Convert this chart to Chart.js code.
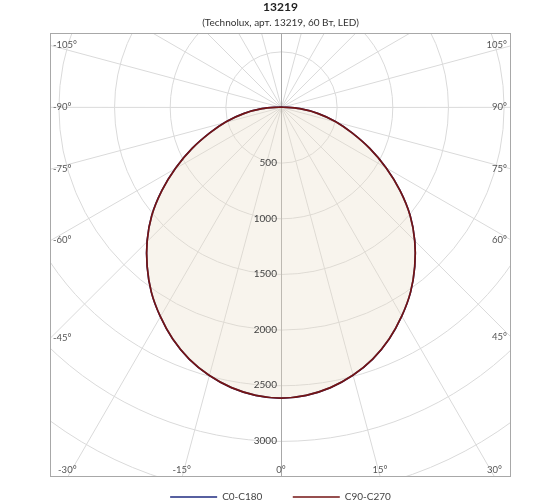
<!DOCTYPE html>
<html>
<head>
<meta charset="utf-8">
<script src="https://cdn.jsdelivr.net/npm/chart.js@4.4.1/dist/chart.umd.min.js"></script>
<style>
  html, body { margin: 0; padding: 0; background: #fff; }
  #cadre { width: 560px; height: 504px; }
</style>
</head>
<body>
<div id="cadre"><canvas id="graphique"></canvas></div>
<script>

// angles gamma en degres (0 = vers le bas)
const anglesGamma = [-90, -85, -80, -75, -70, -65, -60, -55, -50, -45, -40, -35, -30, -25, -20, -15, -10, -5,
  0, 5, 10, 15, 20, 25, 30, 35, 40, 45, 50, 55, 60, 65, 70, 75, 80, 85, 90];

const intensiteC0C180 = [0, 170, 340, 510, 680, 880, 1090, 1305, 1515, 1700, 1870, 2030, 2170, 2300, 2410, 2495, 2560, 2600,
  2615, 2600, 2560, 2495, 2410, 2300, 2170, 2030, 1870, 1700, 1515, 1305, 1090, 880, 680, 510, 340, 170, 0];
const intensiteC90C270 = [0, 170, 340, 510, 680, 880, 1090, 1305, 1515, 1700, 1870, 2030, 2170, 2300, 2410, 2495, 2560, 2600,
  2615, 2600, 2560, 2495, 2410, 2300, 2170, 2030, 1870, 1700, 1515, 1305, 1090, 880, 680, 510, 340, 170, 0];

const anneaux = [500, 1000, 1500, 2000, 2500, 3000, 3500, 4000];
const etiquettesAnneaux = [500, 1000, 1500, 2000, 2500, 3000];
const etiquettesAngles = [-105, -90, -75, -60, -45, -30, -15, 0, 15, 30, 45, 60, 75, 90, 105];
const pasRayons = 15;

const police = 'Lato, "DejaVu Sans", sans-serif';

function versPoints(intensites) {
  return anglesGamma.map((g, i) => {
    const t = g * Math.PI / 180;
    return { x: intensites[i] * Math.sin(t), y: -intensites[i] * Math.cos(t) };
  });
}

const grillePolaire = {
  id: 'grillePolaire',
  beforeDatasetsDraw(chart) {
    const { ctx, chartArea: a, scales: { x, y } } = chart;
    const cx = Math.round(x.getPixelForValue(0)) + 0.5;
    const cy = Math.round(y.getPixelForValue(0)) + 0.5;
    const rpx = v => x.getPixelForValue(v) - x.getPixelForValue(0);
    ctx.save();
    ctx.beginPath();
    ctx.rect(a.left, a.top, a.width, a.height);
    ctx.clip();
    ctx.strokeStyle = '#dadada';
    ctx.lineWidth = 1;
    anneaux.forEach(r => {
      ctx.beginPath();
      ctx.arc(cx, cy, rpx(r), 0, 2 * Math.PI);
      ctx.stroke();
    });
    for (let g = 0; g < 360; g += pasRayons) {
      if (g % 180 === 0) continue;
      const t = g * Math.PI / 180;
      ctx.beginPath();
      ctx.moveTo(cx, cy);
      ctx.lineTo(x.getPixelForValue(6000 * Math.sin(t)), y.getPixelForValue(-6000 * Math.cos(t)));
      ctx.stroke();
    }
    // axe vertical 0-180
    ctx.strokeStyle = '#a8a8a8';
    ctx.beginPath();
    ctx.moveTo(cx, a.top);
    ctx.lineTo(cx, a.bottom);
    ctx.stroke();
    ctx.restore();
  },
  afterDatasetsDraw(chart) {
    const { ctx, chartArea: a, scales: { x, y } } = chart;
    const cx = x.getPixelForValue(0);
    const cy = y.getPixelForValue(0);
    const rpx = v => x.getPixelForValue(v) - cx;
    ctx.save();
    ctx.font = '10px ' + police;
    ctx.fillStyle = '#444';
    ctx.textAlign = 'right';
    ctx.textBaseline = 'middle';
    etiquettesAnneaux.forEach(v => ctx.fillText(String(v), cx - 4, cy + rpx(v)));

    ctx.font = '9.5px ' + police;
    ctx.fillStyle = '#555';
    etiquettesAngles.forEach(g => {
      const t = g * Math.PI / 180;
      const dx = Math.sin(t), dy = Math.cos(t);
      let tx = Infinity, ty = Infinity;
      if (dx < 0) tx = (a.left - cx) / dx;
      if (dx > 0) tx = (a.right - cx) / dx;
      if (dy > 0) ty = (a.bottom - cy) / dy;
      if (dy < 0) ty = (a.top - cy) / dy;
      const texte = g + '°';
      if (ty < tx) {
        ctx.textAlign = 'center';
        ctx.textBaseline = 'bottom';
        ctx.fillText(texte, cx + dx * ty, a.bottom - 2);
      } else if (dx < 0) {
        ctx.textAlign = 'left';
        ctx.textBaseline = 'middle';
        ctx.fillText(texte, a.left + 3, cy + dy * tx);
      } else {
        ctx.textAlign = 'right';
        ctx.textBaseline = 'middle';
        ctx.fillText(texte, a.right - 4, cy + dy * tx);
      }
    });

    ctx.strokeStyle = '#a8a8a8';
    ctx.lineWidth = 1;
    ctx.strokeRect(Math.round(a.left) + 0.5, Math.round(a.top) + 0.5, Math.round(a.width) - 1, Math.round(a.height) - 1);
    ctx.restore();
  }
};

const ctx = document.getElementById('graphique').getContext('2d');

const graphique = new Chart(ctx, {
  type: 'scatter',
  data: {
    datasets: [{
      label: 'C0-C180',
      data: versPoints(intensiteC0C180),
      showLine: true,
      borderColor: '#1f2b80',
      borderWidth: 1.7,
      pointRadius: 0,
      tension: 0.3,
      fill: false,
      order: 1
    }, {
      label: 'C90-C270',
      data: versPoints(intensiteC90C270),
      showLine: true,
      borderColor: '#741414',
      backgroundColor: 'rgba(232, 220, 198, 0.32)',
      borderWidth: 1.7,
      pointRadius: 0,
      tension: 0.3,
      fill: 'shape',
      order: 0
    }]
  },
  options: {
    responsive: true,
    maintainAspectRatio: false,
    animation: false,
    events: [],
    layout: { padding: { left: 50, right: 49, top: 0, bottom: -8 } },
    scales: {
      x: { type: 'linear', min: -2075, max: 2067, display: false },
      y: { type: 'linear', min: -3324, max: 665, display: false }
    },
    plugins: {
      title: {
        display: true,
        text: '13219',
        color: '#222',
        font: { family: police, size: 12, weight: 'bold' },
        padding: { top: 0, bottom: 2 }
      },
      subtitle: {
        display: true,
        text: '(Technolux, арт. 13219, 60 Вт, LED)',
        color: '#333',
        font: { family: police, size: 10 },
        padding: { top: 0, bottom: 4.6 }
      },
      legend: {
        position: 'bottom',
        labels: {
          usePointStyle: true,
          pointStyle: 'line',
          pointStyleWidth: 47,
          padding: 15,
          color: '#444',
          font: { family: police, size: 10 },
          sort: (a, b) => a.datasetIndex - b.datasetIndex,
          generateLabels(chart) {
            const items = Chart.defaults.plugins.legend.labels.generateLabels(chart);
            // espace supplementaire entre les deux entrees
            items.forEach(it => { if (it.datasetIndex === 0) it.text = it.text + '      '; });
            return items;
          }
        }
      },
      tooltip: { enabled: false }
    }
  },
  plugins: [grillePolaire]
});

</script>
</body>
</html>
